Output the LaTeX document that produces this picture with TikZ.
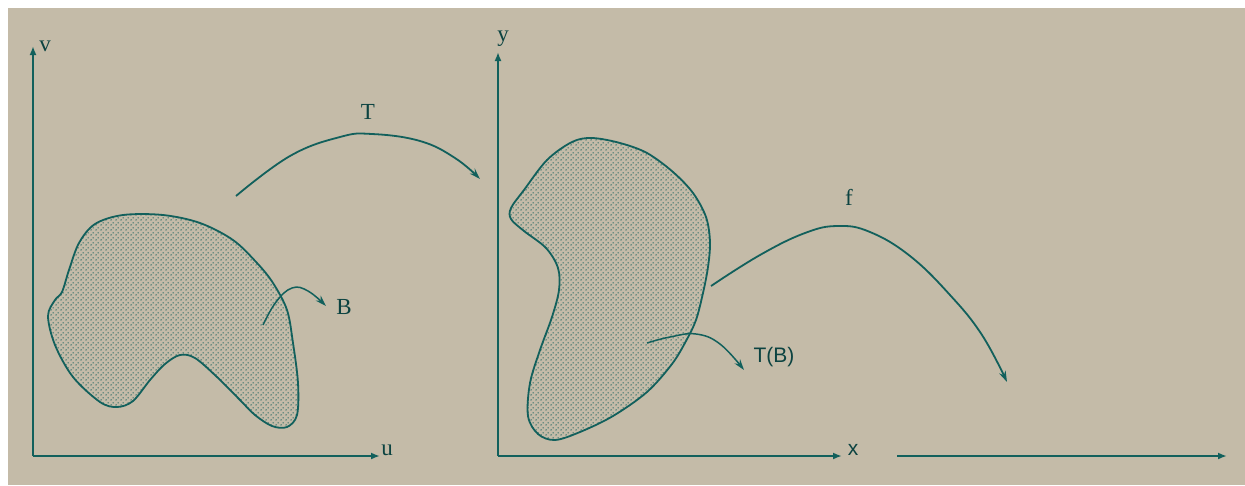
\documentclass[tikz,border=0pt]{standalone}
\usepackage{fontspec}
\setmainfont{Liberation Serif}
\newfontfamily\sanslab{Liberation Sans}
\usetikzlibrary{arrows.meta,patterns.meta}
\definecolor{bgbeige}{RGB}{196,187,168}
\definecolor{ink}{RGB}{18,96,92}
\tikzset{
  axis/.style={draw=ink, line width=2pt, -{Latex[length=9pt,width=7pt]}},
  curvearrow/.style={draw=ink, line width=1.8pt, -{Stealth[length=11pt,width=7pt]}},
  region/.style={draw=ink, line width=1.8pt, pattern={tealdots}, pattern color=ink},
  lab/.style={text=ink!70!black, font=\fontsize{23}{23}\selectfont, inner sep=0pt},
  slab/.style={text=ink!70!black, font=\sanslab\fontsize{21}{21}\selectfont, inner sep=0pt}
}
\tikzdeclarepattern{
  name=tealdots, type=uncolored,
  bounding box={(0pt,0pt) and (5pt,5pt)},
  tile size={(5pt,5pt)},
  code={\fill (1.25pt,1.25pt) circle (0.85pt); \fill (3.75pt,3.75pt) circle (0.85pt);}
}
\begin{document}
\begin{tikzpicture}[x=1pt,y=-1pt]
\useasboundingbox (0,0) rectangle (1245,485);
\fill[white] (0,0) rectangle (1245,485);
\fill[bgbeige] (8,8) rectangle (1245,485);
% left axes
\coordinate (O1) at (33,456);
\coordinate (Y1) at (33,46);
\coordinate (X1) at (380,456);
\draw[axis] (O1) -- (Y1);
\draw[axis] (O1) -- (X1);
\node[lab] (v) at (45,46) {v};
\node[lab] (u) at (387,450) {u};
% middle axes
\coordinate (O2) at (498,456);
\coordinate (Y2) at (498,52);
\coordinate (X2) at (842,456);
\draw[axis] (O2) -- (Y2);
\draw[axis] (O2) -- (X2);
\node[lab] (y) at (503,39) {y};
\node[slab] (x) at (853,450) {x};
% right axis
\coordinate (O3) at (897,456);
\coordinate (X3) at (1227,456);
\draw[axis] (O3) -- (X3);
% region B
\path[region] plot[smooth cycle, tension=0.55] coordinates {
 (123,215) (163,215) (200,223) (233,240) (257,263) (273,283) (287,310)
 (293,343) (298,383) (297,415) (287,427) (272,426) (255,415) (240,400)
 (217,377) (195,358) (180,355) (165,364) (150,380) (133,401) (117,407)
 (100,402) (73,377) (55,345) (48,316) (55,300) (62,292) (69,270)
 (79,243) (95,224)};
% region T(B)
\path[region] plot[smooth cycle, tension=0.55] coordinates {
 (572,142) (592,138) (620,143) (647,153) (673,172) (693,193) (706,217)
 (710,242) (708,267) (703,293) (696,320) (686,341) (672,364) (647,392)
 (613,416) (580,432) (555,440) (538,434) (528,416) (530,383) (540,350)
 (552,317) (559,290) (558,268) (546,248) (524,231) (511,219) (511,208)
 (524,190) (547,160)};
% T arrow
\coordinate (Ts) at (236,196);
\coordinate (Te) at (480,179);
\draw[curvearrow] plot[smooth, tension=0.7] coordinates {(Ts) (290,156) (340,137) (372,134) (420,141) (455,158) (Te)};
\node[lab] (T) at (368,112) {T};
% f arrow
\coordinate (fs) at (711,286);
\coordinate (fe) at (1007,382);
\draw[curvearrow] plot[smooth, tension=0.7] coordinates {(fs) (760,255) (805,233) (838,226) (870,232) (910,256) (950,295) (982,335) (fe)};
\node[lab] (f) at (849,197) {f};
% B pointer
\coordinate (Bs) at (263,325);
\coordinate (Be) at (326,306);
\draw[curvearrow, line width=1.5pt] plot[smooth, tension=0.7] coordinates {(Bs) (276,302) (292,288) (308,291) (Be)};
\node[lab] (B) at (344,307) {B};
% T(B) pointer
\coordinate (TBs) at (647,343);
\coordinate (TBe) at (744,370);
\draw[curvearrow, line width=1.5pt] plot[smooth, tension=0.7] coordinates {(TBs) (670,337) (696,334) (720,344) (TBe)};
\node[slab] (TB) at (774,357) {T(B)};
\end{tikzpicture}
\end{document}
